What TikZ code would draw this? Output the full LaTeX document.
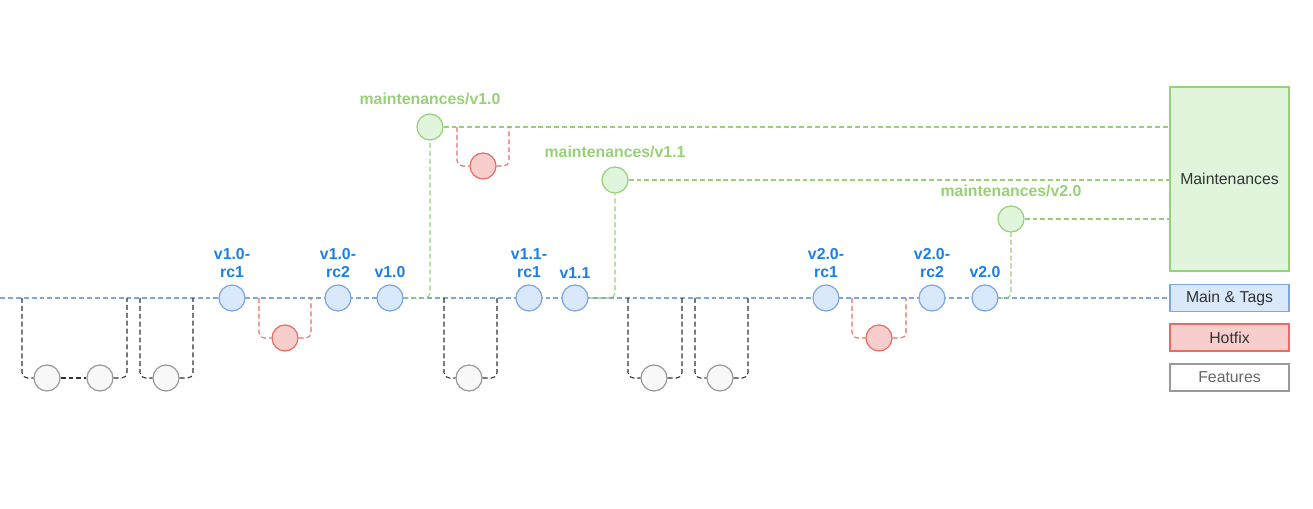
\documentclass[tikz,border=0pt]{standalone}
\usepackage{fontspec}
\setmainfont{Liberation Sans}
\usetikzlibrary{positioning}

\definecolor{tagfill}{HTML}{DAE8FC}
\definecolor{tagdraw}{HTML}{7EA6E0}
\definecolor{tagtext}{HTML}{1A7FE8}
\definecolor{hotfill}{HTML}{F8CECC}
\definecolor{hotdraw}{HTML}{EA6B66}
\definecolor{mntfill}{HTML}{E0F5DC}
\definecolor{mntdraw}{HTML}{97D077}
\definecolor{featfill}{HTML}{F8F8F8}
\definecolor{featdraw}{HTML}{999999}
\definecolor{boxtext}{HTML}{333333}

\tikzset{
  commit/.style={circle, draw, line width=0.7pt, minimum size=0.52cm, inner sep=0pt},
  tagc/.style={commit, draw=tagdraw, fill=tagfill},
  hotc/.style={commit, draw=hotdraw, fill=hotfill},
  mntc/.style={commit, draw=mntdraw, fill=mntfill},
  featc/.style={commit, draw=featdraw, fill=featfill},
  dsh/.style={dash pattern=on 2.8pt off 1.7pt, line width=0.6pt},
  mainline/.style={dsh, draw=tagdraw},
  hotline/.style={dsh, draw=hotdraw, rounded corners=3pt},
  mntline/.style={dsh, draw=mntdraw, rounded corners=3pt},
  featline/.style={dsh, draw=black!80, rounded corners=3pt},
  taglbl/.style={text=tagtext, font=\fontsize{9}{10.2}\selectfont\bfseries, align=center, inner sep=0pt},
  mntlbl/.style={text=mntdraw, font=\fontsize{9}{10.2}\selectfont\bfseries, inner sep=0pt},
  legend/.style={draw, line width=0.7pt, minimum width=2.38cm, minimum height=0.54cm,
    inner sep=0pt, text=boxtext, font=\fontsize{9}{10.5}\selectfont},
}

\begin{document}
\begin{tikzpicture}[x=0.02cm, y=-0.02cm]

\useasboundingbox (0,0) rectangle (1313,509);

% legend
\node[legend, draw=mntdraw, fill=mntfill, minimum height=3.68cm] (maint) at (1229.5,179) {Maintenances};
\node[legend, draw=tagdraw, fill=tagfill] (tags) at (1229.5,298) {Main \& Tags};
\node[legend, draw=hotdraw, fill=hotfill] (hotfix) at (1229.5,337.5) {Hotfix};
\node[legend, draw=featdraw, fill=white, text=black!60] (feat) at (1229.5,377.5) {Features};

% main line
\coordinate (start) at (0,298);
\draw[mainline] (start) -- (tags.west);

% points where the branches leave and join
\foreach \n/\x in {a1/22, b1/127, a2/140, b2/193, a3/444, b3/497, a4/628, b4/682, a5/695, b5/748,
                   ha1/259, hb1/311, ha3/852, hb3/906}
  \coordinate (\n) at (\x,298);
\coordinate (ha2) at (457,127);
\coordinate (hb2) at (509,127);

% tags
\foreach \n/\x/\t in {1/232/{v1.0-\\rc1}, 2/338/{v1.0-\\rc2}, 3/390/{v1.0}, 4/529/{v1.1-\\rc1},
                      5/575/{v1.1}, 6/826/{v2.0-\\rc1}, 7/932/{v2.0-\\rc2}, 8/985/{v2.0}}{
  \node[tagc] (t\n) at (\x,298) {};
  \node[taglbl, above=3.4pt of t\n] (tl\n) {\t};
}

% maintenances
\node[mntc] (m1) at (430,127) {};
\node[mntc] (m2) at (615,180) {};
\node[mntc] (m3) at (1011,219) {};
\node[mntlbl, above=4.5pt of m1] (ml1) {maintenances/v1.0};
\node[mntlbl, above=4.5pt of m2] (ml2) {maintenances/v1.1};
\node[mntlbl, above=4.5pt of m3] (ml3) {maintenances/v2.0};

\draw[mntline] (t3) -| (m1);
\draw[mntline] (t5) -| (m2);
\draw[mntline] (t8) -| (m3);
\draw[mntline] (m1) -- (m1 -| maint.west);
\draw[mntline] (m2) -- (m2 -| maint.west);
\draw[mntline] (m3) -- (m3 -| maint.west);

% hotfixes
\node[hotc] (h1) at (285,338) {};
\node[hotc] (h2) at (483,166) {};
\node[hotc] (h3) at (879,338) {};
\foreach \n in {1,2,3}{
  \draw[hotline] (ha\n) |- (h\n);
  \draw[hotline] (h\n) -| (hb\n);
}

% features
\node[featc] (f1) at (47,378) {};
\node[featc] (f2) at (100,378) {};
\node[featc] (f3) at (166,378) {};
\node[featc] (f4) at (469,378) {};
\node[featc] (f5) at (654,378) {};
\node[featc] (f6) at (720,378) {};

\draw[featline] (a1) |- (f1);
\draw[featline] (f1) -- (f2);
\draw[featline] (f2) -| (b1);
\draw[featline] (a2) |- (f3);
\draw[featline] (f3) -| (b2);
\draw[featline] (a3) |- (f4);
\draw[featline] (f4) -| (b3);
\draw[featline] (a4) |- (f5);
\draw[featline] (f5) -| (b4);
\draw[featline] (a5) |- (f6);
\draw[featline] (f6) -| (b5);

\end{tikzpicture}
\end{document}
